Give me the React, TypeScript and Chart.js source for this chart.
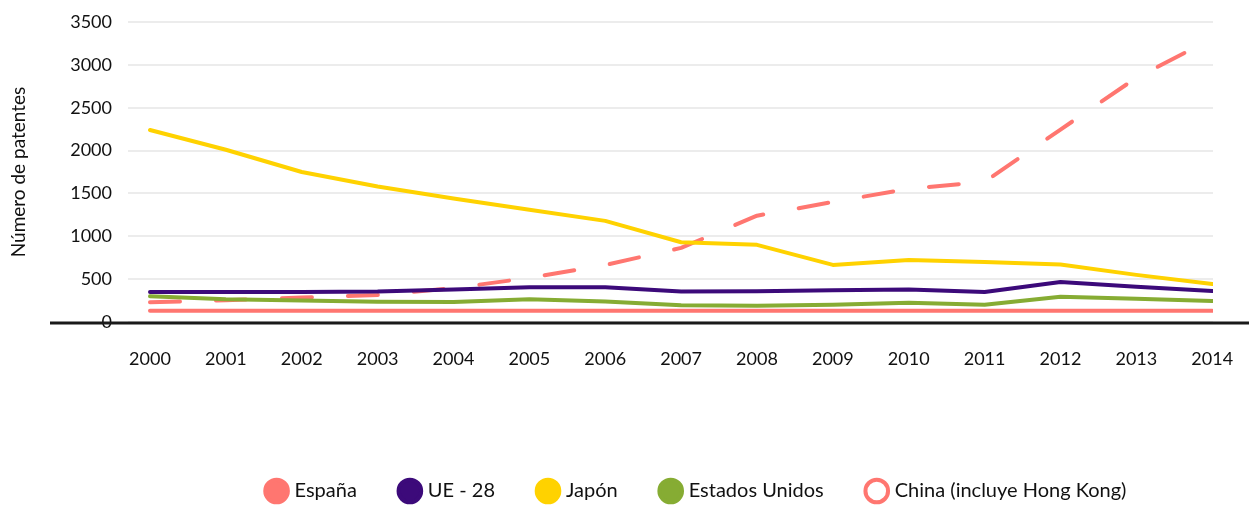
import React, { useEffect, useRef } from "react";
import { Chart, registerables } from "chart.js";

Chart.register(...registerables);

// ---- Data ----
const years = ["2000", "2001", "2002", "2003", "2004", "2005", "2006", "2007", "2008", "2009", "2010", "2011", "2012", "2013", "2014"];
const espana = [130, 130, 130, 130, 130, 130, 130, 130, 130, 130, 130, 130, 130, 130, 130];
const ue28 = [350, 350, 350, 355, 380, 405, 405, 355, 360, 370, 380, 350, 467, 410, 362];
const japon = [2240, 2010, 1750, 1580, 1440, 1310, 1180, 930, 900, 666, 724, 700, 670, 550, 444];
const eeuu = [300, 265, 250, 235, 234, 265, 240, 195, 190, 200, 225, 200, 295, 270, 245];
const china = [230, 255, 285, 315, 395, 515, 665, 865, 1240, 1400, 1555, 1635, 2245, 2850, 3305];
const yTickValues = [0, 500, 1000, 1500, 2000, 2500, 3000, 3500];

const seriesLabels = ["España", "UE - 28", "Japón", "Estados Unidos", "China (incluye Hong Kong)"];
const yTitle = "Número de patentes";

const SALMON = "#FF7670";
const PURPLE = "#3C0A7A";
const YELLOW = "#FFD200";
const GREEN = "#86AC33";

const LEGEND_FONT = 20;
const LEGEND_PAD = 45;

export default function App() {
  const ref = useRef<HTMLCanvasElement | null>(null);

  useEffect(() => {
    document.body.style.margin = "0";
    const canvas = ref.current;
    if (!canvas) return;

    Chart.defaults.font.family = "Lato";
    Chart.defaults.color = "#111111";

    const mk = (label: string, data: number[], color: string, extra: any = {}) => ({
      label,
      data: data.map((y, i) => ({ x: i, y })),
      borderColor: color,
      backgroundColor: color,
      borderWidth: 4,
      pointRadius: 0,
      pointHoverRadius: 0,
      pointStyle: "circle",
      tension: 0,
      borderCapStyle: "round",
      borderJoinStyle: "round",
      ...extra,
    });

    const axisLine = {
      id: "axisLine",
      afterDatasetsDraw(chart: any) {
        const { ctx, chartArea } = chart;
        ctx.save();
        ctx.strokeStyle = "#1a1a1a";
        ctx.lineWidth = 3;
        ctx.beginPath();
        ctx.moveTo(50, chartArea.bottom + 1);
        ctx.lineTo(chart.width, chartArea.bottom + 1);
        ctx.stroke();
        ctx.restore();
      },
    };

    const legendShift = {
      id: "legendShift",
      afterLayout(chart: any) {
        const l = chart.legend;
        if (l) {
          l.left += 27;
          l.right += 27;
          l.top += 4;
          l.bottom += 4;
        }
      },
    };

    const legendHeight = LEGEND_FONT + LEGEND_PAD + 10;

    const chart = new Chart(canvas, {
      type: "line",
      data: {
        datasets: [
          mk(seriesLabels[0], espana, SALMON),
          mk(seriesLabels[1], ue28, PURPLE),
          mk(seriesLabels[2], japon, YELLOW),
          mk(seriesLabels[3], eeuu, GREEN),
          mk(seriesLabels[4], china, SALMON, {
            backgroundColor: "#ffffff",
            borderDash: [30, 36],
          }),
        ],
      },
      options: {
        animation: false,
        responsive: true,
        maintainAspectRatio: false,
        layout: { padding: { left: 0, right: 36, top: 22, bottom: 0 } },
        plugins: {
          tooltip: { enabled: false },
          legend: {
            position: "bottom",
            fullSize: false,
            labels: {
              usePointStyle: true,
              pointStyle: "circle",
              boxWidth: 16,
              boxHeight: 16,
              font: { size: LEGEND_FONT },
              padding: LEGEND_PAD,
              color: "#111111",
            },
          },
        },
        scales: {
          x: {
            type: "linear",
            min: -0.29,
            max: 14.01,
            afterBuildTicks: (scale: any) => {
              scale.ticks = years.map((_, i) => ({ value: i }));
            },
            afterFit: (scale: any) => {
              scale.height = 507 - 322 - legendHeight;
              scale.paddingLeft = 0;
              scale.paddingRight = 0;
            },
            grid: { display: false, drawTicks: false },
            border: { display: false },
            ticks: {
              autoSkip: false,
              maxRotation: 0,
              padding: 26,
              font: { size: 18 },
              color: "#111111",
              callback: (v: any) => years[Math.round(Number(v))] ?? "",
            },
          },
          y: {
            min: 0,
            max: 3500,
            afterBuildTicks: (scale: any) => {
              scale.ticks = yTickValues.map((v) => ({ value: v }));
            },
            afterFit: (scale: any) => {
              scale.width = 128;
              scale.paddingTop = 0;
              scale.paddingBottom = 0;
            },
            grid: { color: "#ececec", lineWidth: 2, drawTicks: false },
            border: { display: false },
            ticks: {
              padding: 16,
              font: { size: 18 },
              color: "#111111",
              callback: (v: any) => String(v),
            },
            title: {
              display: true,
              text: yTitle,
              font: { size: 19 },
              color: "#111111",
              padding: { top: 7, bottom: 4 },
            },
          },
        },
      },
      plugins: [axisLine, legendShift],
    });

    return () => chart.destroy();
  }, []);

  return (
    <div style={{ width: 1249, height: 507, position: "relative" }}>
      <canvas ref={ref} />
    </div>
  );
}
